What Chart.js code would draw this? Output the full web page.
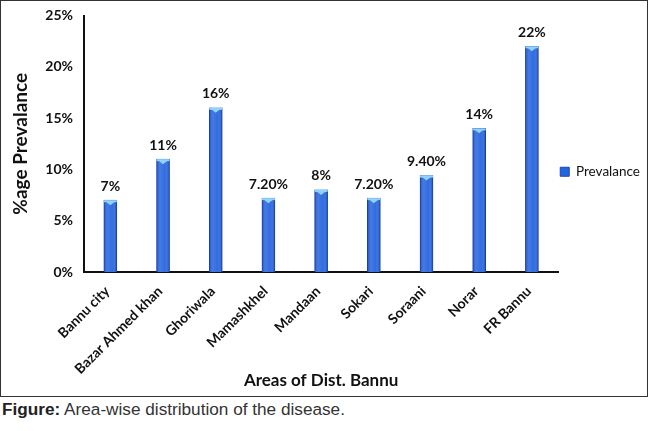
<!DOCTYPE html>
<html>
<head>
<meta charset="utf-8">
<script src="https://cdn.jsdelivr.net/npm/chart.js@4/dist/chart.umd.min.js"></script>
<style>
  body { margin: 0; background: #fff; }
  #frame { position: absolute; left: 0; top: 0; width: 646px; height: 395px; border: 1.5px solid #333; }
  #caption { position: absolute; left: 2px; top: 399px; font-family: "Liberation Sans Narrow", sans-serif; font-size: 17.2px; color: #333; white-space: nowrap; }
  #caption b { color: #222; }
</style>
</head>
<body>
<div id="frame"><canvas id="chart" width="646" height="395"></canvas></div>
<div id="caption"><b>Figure:</b> Area-wise distribution of the disease.</div>
<script>
// data
const areas = ['Bannu city', 'Bazar Ahmed khan', 'Ghoriwala', 'Mamashkhel', 'Mandaan', 'Sokari', 'Soraani', 'Norar', 'FR Bannu'];
const prevalence = [7, 11, 16, 7.2, 8, 7.2, 9.4, 14, 22];
const valueLabels = ['7%', '11%', '16%', '7.20%', '8%', '7.20%', '9.40%', '14%', '22%'];
const yTicks = [0, 5, 10, 15, 20, 25];

const FONT = 'Lato, "Open Sans", sans-serif';

// shading + light cap on each bar, then the value labels
const barDecor = {
  id: 'barDecor',
  afterDatasetsDraw(chart) {
    const ctx = chart.ctx;
    const meta = chart.getDatasetMeta(0);
    meta.data.forEach((bar, i) => {
      const w = bar.width, x0 = bar.x - w / 2, top = bar.y, bottom = bar.base;
      const g = ctx.createLinearGradient(x0, 0, x0 + w, 0);
      g.addColorStop(0, 'rgba(10,40,130,0.45)');
      g.addColorStop(0.35, 'rgba(255,255,255,0.12)');
      g.addColorStop(0.65, 'rgba(255,255,255,0.05)');
      g.addColorStop(1, 'rgba(10,40,130,0.45)');
      ctx.save();
      ctx.fillStyle = g;
      ctx.fillRect(x0, top, w, bottom - top);
      // top cap
      ctx.fillStyle = '#8fd3ff';
      ctx.fillRect(x0, top, w, 2);
      ctx.beginPath();
      ctx.moveTo(bar.x - 5, top + 1);
      ctx.lineTo(bar.x + 5, top + 1);
      ctx.lineTo(bar.x, top + 5);
      ctx.closePath();
      ctx.fill();
      // value label
      ctx.fillStyle = '#111';
      ctx.font = 'bold 14px ' + FONT;
      ctx.textAlign = 'center';
      ctx.textBaseline = 'bottom';
      ctx.fillText(valueLabels[i], bar.x, top - 7);
      ctx.restore();
    });
  }
};

new Chart(document.getElementById('chart'), {
  type: 'bar',
  data: {
    labels: areas,
    datasets: [{
      label: 'Prevalance',
      data: prevalence,
      backgroundColor: '#2564e0',
      borderColor: '#1a48b4',
      borderWidth: 1,
      barThickness: 13
    }]
  },
  options: {
    responsive: false,
    animation: false,
    layout: { padding: { left: 8, top: 14.5, right: -3, bottom: 5 } },
    plugins: {
      legend: {
        position: 'right',
        fullSize: false,
        // empty title only pushes the entry down to where the original sits
        title: { display: true, text: ' ', font: { size: 10 }, padding: { top: 44, bottom: 0 } },
        labels: {
          color: '#111',
          font: { family: FONT, size: 13.5 },
          boxWidth: 9,
          boxHeight: 9,
          padding: 2
        }
      },
      tooltip: { enabled: false }
    },
    scales: {
      y: {
        min: 0,
        max: 25,
        afterBuildTicks(scale) { scale.ticks = yTicks.map(v => ({ value: v })); },
        afterFit(scale) { scale.width = 75; },
        grid: { display: false, tickLength: 5, color: '#111' },
        border: { color: '#111', width: 2 },
        ticks: {
          color: '#111',
          font: { family: FONT, size: 14, weight: 'bold' },
          padding: 6,
          callback: v => v + '%'
        },
        title: {
          display: true,
          text: '%age Prevalance',
          color: '#111',
          font: { family: FONT, size: 19, weight: 'bold' },
          padding: { top: 0, bottom: 2 }
        }
      },
      x: {
        afterFit(scale) { scale.height = 119; },
        grid: { display: false, tickLength: 4, color: '#111' },
        border: { color: '#111', width: 2 },
        ticks: {
          color: '#111',
          font: { family: FONT, size: 14, weight: 'bold' },
          minRotation: 45,
          maxRotation: 45,
          autoSkip: false,
          labelOffset: -3,
          padding: 7
        },
        title: {
          display: true,
          text: 'Areas of Dist. Bannu',
          color: '#111',
          font: { family: FONT, size: 17, weight: 'bold' },
          padding: { top: 0, bottom: 0 }
        }
      }
    }
  },
  plugins: [barDecor]
});
</script>
</body>
</html>
